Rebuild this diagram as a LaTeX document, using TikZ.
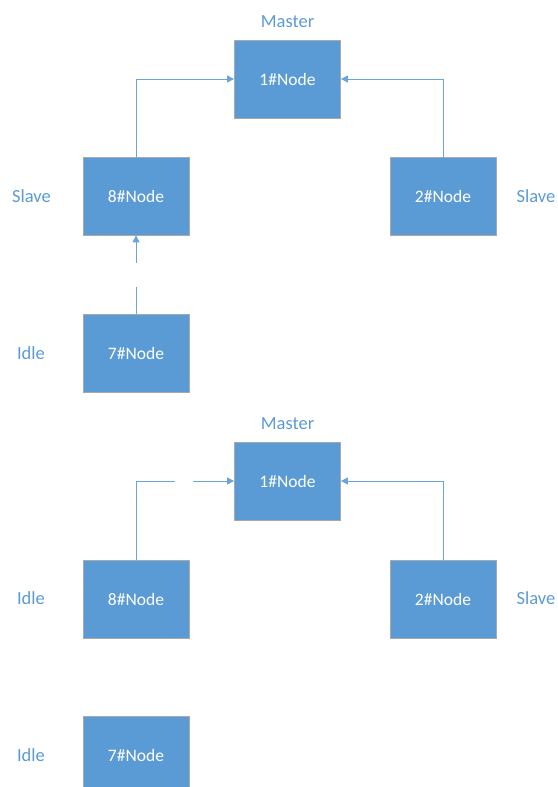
\documentclass[tikz,border=0pt]{standalone}
\usepackage{fontspec}
\setmainfont{Carlito}
\usetikzlibrary{arrows.meta}
\definecolor{nodeblue}{HTML}{5B9BD5}
\definecolor{edgegray}{HTML}{A9A9A9}
\definecolor{linkblue}{HTML}{6AA5DA}
\tikzset{
  nodebox/.style={draw=edgegray, line width=0.8pt, fill=nodeblue, text=white,
    minimum width=106pt, minimum height=78pt, inner sep=0pt, font=\fontsize{17.5}{20}\selectfont},
  rolelabel/.style={text=nodeblue, inner sep=0pt, font=\fontsize{18.5}{21}\selectfont},
  link/.style={draw=linkblue, line width=1pt},
  linkarrow/.style={link, -{Triangle[length=7pt,width=7pt]}}
}
\begin{document}
\begin{tikzpicture}[x=1pt,y=1pt]
\useasboundingbox (0,0) rectangle (557,-787);
\begin{scope}
\clip (0,0) rectangle (557,-787);
% top diagram
\node[nodebox] (t1) at (287.5,-79) {1\#Node};
\node[nodebox] (t8) at (136,-196) {8\#Node};
\node[nodebox] (t2) at (443,-196) {2\#Node};
\node[nodebox] (t7) at (136,-353) {7\#Node};
\node[rolelabel] (tm) at (287.5,-22) {Master};
\node[rolelabel] (ts8) at (31.5,-196) {Slave};
\node[rolelabel] (ts2) at (536,-196) {Slave};
\node[rolelabel] (ti7) at (31,-353) {Idle};
\draw[linkarrow] (t8.north) |- (t1.west);
\draw[linkarrow] (t2.north) |- (t1.east);
\coordinate (tg1) at (136,-287);
\coordinate (tg2) at (136,-263);
\draw[link] (t7.north) -- (tg1);
\draw[linkarrow] (tg2) -- (t8.south);
% bottom diagram
\node[nodebox] (b1) at (287.5,-481) {1\#Node};
\node[nodebox] (b8) at (136,-599) {8\#Node};
\node[nodebox] (b2) at (443,-599) {2\#Node};
\node[nodebox] (b7) at (136,-755) {7\#Node};
\node[rolelabel] (bm) at (287.5,-424) {Master};
\node[rolelabel] (bi8) at (31,-598) {Idle};
\node[rolelabel] (bs2) at (536,-598) {Slave};
\node[rolelabel] (bi7) at (31,-755) {Idle};
\coordinate (bg1) at (175,-481);
\coordinate (bg2) at (193,-481);
\draw[link] (b8.north) |- (bg1);
\draw[linkarrow] (bg2) -- (b1.west);
\draw[linkarrow] (b2.north) |- (b1.east);
\end{scope}
\end{tikzpicture}
\end{document}
